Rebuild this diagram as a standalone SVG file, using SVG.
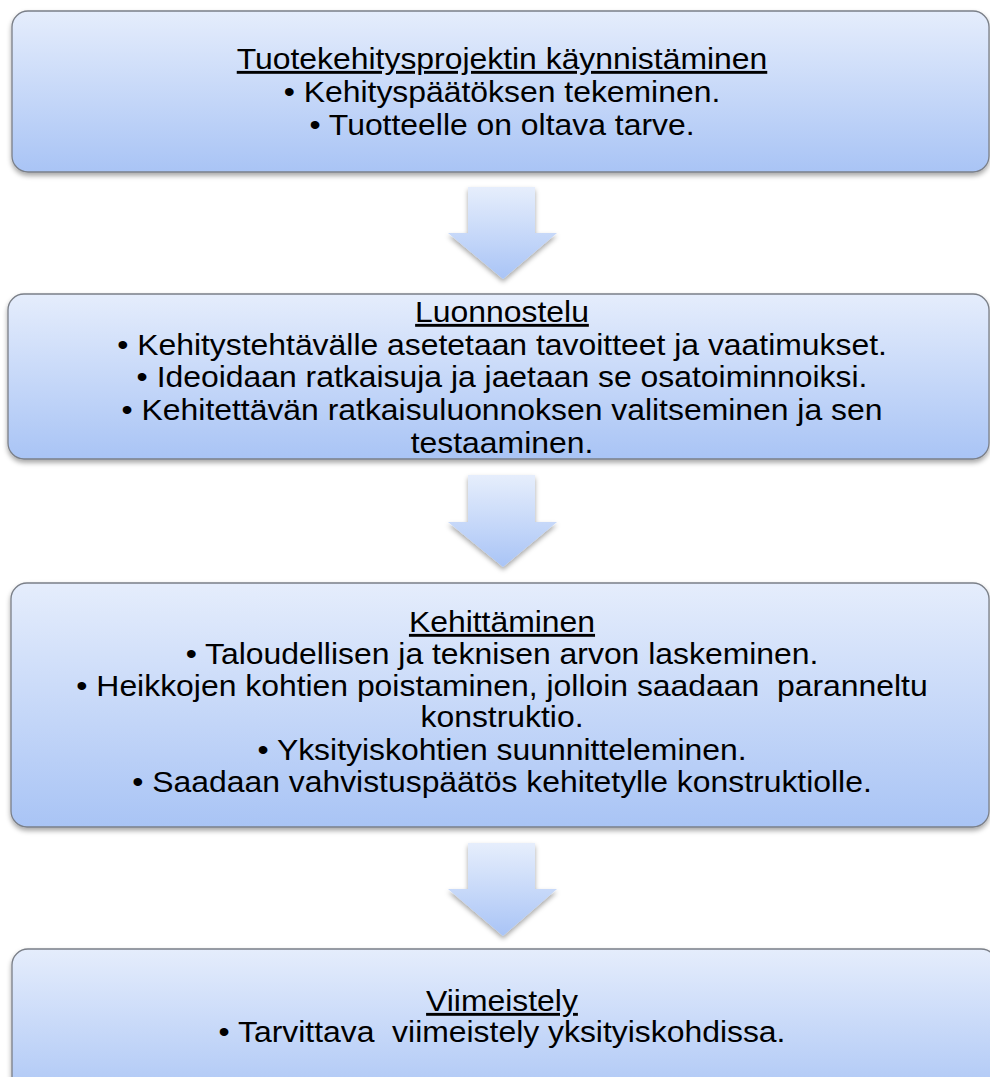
<svg xmlns="http://www.w3.org/2000/svg" width="990" height="1077" viewBox="0 0 990 1077">
<style>
.box{stroke:#7a7f88;stroke-width:1.3;fill:url(#bg)}
.arr{fill:url(#ag)}
text{font-family:"Liberation Sans",Arial,sans-serif;font-size:29px;fill:#000;text-anchor:middle;white-space:pre}
.t{text-decoration:underline}
</style>
<defs>
<linearGradient id="bg" x1="0" y1="0" x2="0" y2="1">
<stop offset="0" stop-color="#e5edfc"/>
<stop offset="1" stop-color="#a9c4f5"/>
</linearGradient>
<linearGradient id="ag" x1="0" y1="0" x2="0" y2="1">
<stop offset="0" stop-color="#e6eefc"/>
<stop offset="1" stop-color="#a9c4f6"/>
</linearGradient>
<filter id="sh" x="-5%" y="-10%" width="110%" height="130%">
<feDropShadow dx="0" dy="3" stdDeviation="2.5" flood-color="#000" flood-opacity="0.35"/>
</filter>
</defs>
<g id="connectors" filter="url(#sh)">
<path class="arr" d="M468,187 H535 V233 H557 L503,279 L448,233 H468 Z"/>
<path class="arr" d="M468,475 H535 V522 H557 L503,567 L448,522 H468 Z"/>
<path class="arr" d="M468,843 H535 V889 H557 L503,936 L448,889 H468 Z"/>
</g>
<g id="node1">
<rect class="box" x="12" y="11" width="977" height="161" rx="16" filter="url(#sh)"/>
<g transform="translate(502,0) scale(1.1,1) translate(-502,0)">
<text class="t" x="502" y="69">Tuotekehitysprojektin käynnistäminen</text>
<text x="502" y="102">• Kehityspäätöksen tekeminen.</text>
<text x="502" y="135">• Tuotteelle on oltava tarve.</text>
</g>
</g>
<g id="node2">
<rect class="box" x="8" y="294" width="981" height="165" rx="16" filter="url(#sh)"/>
<g transform="translate(502,0) scale(1.1,1) translate(-502,0)">
<text class="t" x="502" y="322">Luonnostelu</text>
<text x="502" y="355">• Kehitystehtävälle asetetaan tavoitteet ja vaatimukset.</text>
<text x="502" y="387">• Ideoidaan ratkaisuja ja jaetaan se osatoiminnoiksi.</text>
<text x="502" y="420">• Kehitettävän ratkaisuluonnoksen valitseminen ja sen</text>
<text x="502" y="453">testaaminen.</text>
</g>
</g>
<g id="node3">
<rect class="box" x="11" y="583" width="978" height="244" rx="16" filter="url(#sh)"/>
<g transform="translate(502,0) scale(1.1,1) translate(-502,0)">
<text class="t" x="502" y="632">Kehittäminen</text>
<text x="502" y="664">• Taloudellisen ja teknisen arvon laskeminen.</text>
<text x="502" y="696">• Heikkojen kohtien poistaminen, jolloin saadaan  paranneltu</text>
<text x="502" y="727">konstruktio.</text>
<text x="502" y="760">• Yksityiskohtien suunnitteleminen.</text>
<text x="502" y="792">• Saadaan vahvistuspäätös kehitetylle konstruktiolle.</text>
</g>
</g>
<g id="node4">
<rect class="box" x="12" y="949" width="985" height="160" rx="16" filter="url(#sh)"/>
<g transform="translate(502,0) scale(1.1,1) translate(-502,0)">
<text class="t" x="502" y="1011">Viimeistely</text>
<text x="502" y="1042">• Tarvittava  viimeistely yksityiskohdissa.</text>
</g>
</g>
</svg>
